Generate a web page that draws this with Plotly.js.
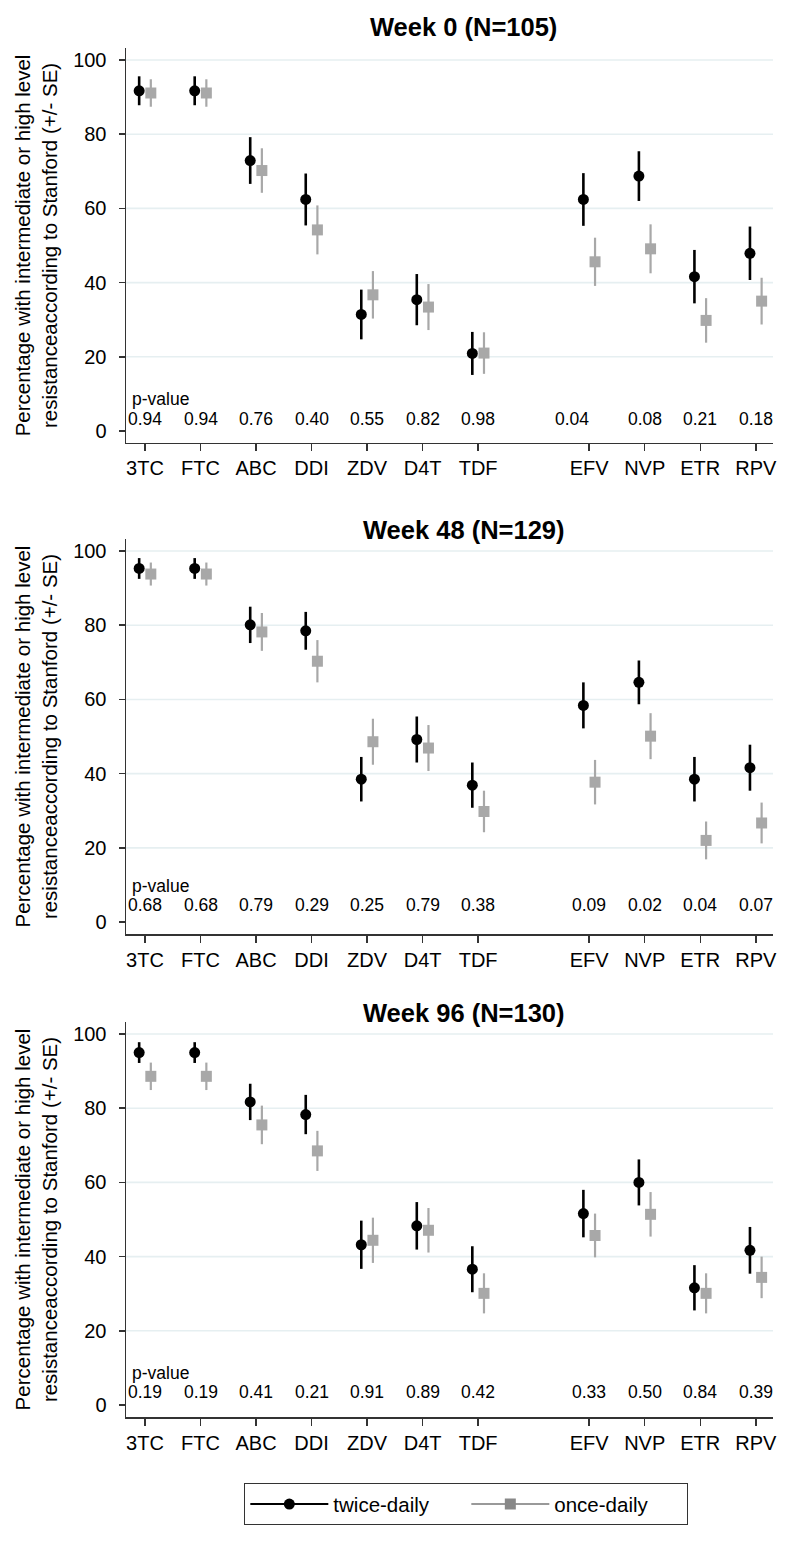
<!DOCTYPE html>
<html>
<head>
<meta charset="utf-8">
<script src="https://cdn.plot.ly/plotly-3.0.1.min.js"></script>
<style>html,body{margin:0;padding:0;background:#fff;}#chart{width:800px;height:1549px;}</style>
</head>
<body>
<div id="chart"></div>
<script>
// ---- data ----
var drugs = ['3TC','FTC','ABC','DDI','ZDV','D4T','TDF','EFV','NVP','ETR','RPV'];
var nrtiCount = 7; // first 7 are NRTIs, then a gap, then NNRTIs
var panelTitles = ['Week 0 (N=105)', 'Week 48 (N=129)', 'Week 96 (N=130)'];
var seriesNames = ['twice-daily', 'once-daily'];

var w0Twice   = [91.7, 91.7, 72.9, 62.4, 31.4, 35.4, 20.9, 62.4, 68.7, 41.6, 47.9];
var w0TwiceSE = [3.9, 3.9, 6.3, 7.0, 6.7, 6.9, 5.8, 7.1, 6.7, 7.2, 7.2];
var w0Once    = [91.1, 91.1, 70.2, 54.2, 36.7, 33.4, 21.0, 45.6, 49.1, 29.8, 35.0];
var w0OnceSE  = [3.7, 3.7, 6.0, 6.6, 6.4, 6.2, 5.6, 6.5, 6.6, 6.0, 6.3];
var w0P       = ['0.94','0.94','0.76','0.40','0.55','0.82','0.98','0.04','0.08','0.21','0.18'];

var w48Twice   = [95.3, 95.3, 80.1, 78.5, 38.5, 49.2, 36.9, 58.4, 64.6, 38.5, 41.6];
var w48TwiceSE = [2.8, 2.8, 4.9, 5.1, 6.0, 6.2, 6.1, 6.2, 5.9, 6.0, 6.2];
var w48Once    = [93.8, 93.8, 78.2, 70.3, 48.6, 46.9, 29.8, 37.7, 50.1, 22.0, 26.7];
var w48OnceSE  = [3.1, 3.1, 5.1, 5.7, 6.2, 6.2, 5.6, 6.0, 6.2, 5.1, 5.5];
var w48P       = ['0.68','0.68','0.79','0.29','0.25','0.79','0.38','0.09','0.02','0.04','0.07'];

var w96Twice   = [95.0, 95.0, 81.7, 78.3, 43.2, 48.3, 36.6, 51.6, 60.0, 31.6, 41.7];
var w96TwiceSE = [2.8, 2.8, 4.9, 5.3, 6.5, 6.4, 6.2, 6.4, 6.2, 6.1, 6.3];
var w96Once    = [88.6, 88.6, 75.5, 68.5, 44.4, 47.1, 30.1, 45.7, 51.4, 30.1, 34.4];
var w96OnceSE  = [3.7, 3.7, 5.2, 5.4, 6.1, 6.0, 5.4, 5.9, 6.0, 5.4, 5.6];
var w96P       = ['0.19','0.19','0.41','0.21','0.91','0.89','0.42','0.33','0.50','0.84','0.39'];

var yTicks = [0, 20, 40, 60, 80, 100];
var gridVals = [20, 40, 60, 80, 100];

// ---- build ----
var panels = [
  {title: panelTitles[0], twice: w0Twice, twiceSE: w0TwiceSE, once: w0Once, onceSE: w0OnceSE, p: w0P},
  {title: panelTitles[1], twice: w48Twice, twiceSE: w48TwiceSE, once: w48Once, onceSE: w48OnceSE, p: w48P},
  {title: panelTitles[2], twice: w96Twice, twiceSE: w96TwiceSE, once: w96Once, onceSE: w96OnceSE, p: w96P}
];

var FONT = 'Liberation Sans, Arial, Helvetica, sans-serif';
var BLACK = '#000000';
var GREY = '#a8a8a8';
var AXIS = '#333333';
var dodge = 0.105;

var pos = drugs.map(function(d, i){ return i < nrtiCount ? i + 1 : i + 2; });

var domains = [[0.7115, 1.0], [0.3528, 0.6413], [0.0, 0.2885]];
var titleY = [1.0153, 0.6479, 0.2951];
var pLabelY = [8.6, 9.8, 8.6];
var pValY = [3.3, 4.6, 3.5];

var data = [];
var layout = {
  width: 800, height: 1549,
  margin: {l: 126, r: 27, t: 48, b: 132},
  paper_bgcolor: '#ffffff', plot_bgcolor: '#ffffff',
  font: {family: FONT, color: '#000', size: 20},
  showlegend: true,
  legend: {
    orientation: 'h', x: 0.526, xanchor: 'center', y: -0.0484, yanchor: 'top',
    bordercolor: AXIS, borderwidth: 1, font: {family: FONT, size: 20.5, color: '#000'},
    itemwidth: 78, entrywidth: 128, entrywidthmode: 'pixels', traceorder: 'normal'
  },
  annotations: [], shapes: []
};

panels.forEach(function(pn, k){
  var xa = k === 0 ? 'x' : 'x' + (k + 1);
  var ya = k === 0 ? 'y' : 'y' + (k + 1);
  data.push({
    type: 'scatter', mode: 'markers', xaxis: xa, yaxis: ya, showlegend: false,
    name: seriesNames[0],
    x: pos.map(function(p){ return p - dodge; }), y: pn.twice,
    error_y: {type: 'data', array: pn.twiceSE, visible: true, width: 0, thickness: 2.6, color: BLACK},
    marker: {symbol: 'circle', size: 11, color: BLACK}
  });
  data.push({
    type: 'scatter', mode: 'markers', xaxis: xa, yaxis: ya, showlegend: false,
    name: seriesNames[1],
    x: pos.map(function(p){ return p + dodge; }), y: pn.once,
    error_y: {type: 'data', array: pn.onceSE, visible: true, width: 0, thickness: 2.2, color: GREY},
    marker: {symbol: 'square', size: 11, color: GREY}
  });

  var xKey = k === 0 ? 'xaxis' : 'xaxis' + (k + 1);
  var yKey = k === 0 ? 'yaxis' : 'yaxis' + (k + 1);
  layout[xKey] = {
    anchor: ya, domain: [0, 1], range: [0.658, 12.31],
    tickmode: 'array', tickvals: pos, ticktext: drugs,
    ticks: 'outside', ticklen: 7, tickwidth: 1.5, tickcolor: AXIS,
    showline: true, linecolor: AXIS, linewidth: 1.5,
    showgrid: false, zeroline: false,
    tickfont: {family: FONT, size: 20, color: '#000'}
  };
  layout[yKey] = {
    anchor: xa, domain: domains[k], range: [-3.23, 103.23],
    tickmode: 'array', tickvals: yTicks,
    ticks: 'outside', ticklen: 6, tickwidth: 1.5, tickcolor: AXIS,
    showline: true, linecolor: AXIS, linewidth: 1.5,
    showgrid: false, zeroline: false,
    tickfont: {family: FONT, size: 20, color: '#000'},
    ticklabelstandoff: 8,
    title: {text: 'Percentage with intermediate or high level<br>resistanceaccording to Stanford (+/- SE)',
            font: {family: FONT, size: 20.5, color: '#000'}, standoff: 10}
  };

  gridVals.forEach(function(g){
    layout.shapes.push({type: 'line', xref: xa + ' domain', yref: ya, x0: 0, x1: 1, y0: g, y1: g,
      layer: 'below', line: {color: '#e6eff1', width: 1.6}});
  });

  layout.annotations.push({
    xref: 'paper', yref: 'paper', x: 0.5224, y: titleY[k], xanchor: 'center', yanchor: 'middle',
    text: '<b>' + pn.title + '</b>', showarrow: false,
    font: {family: FONT, size: 25.5, color: '#000'}
  });
  layout.annotations.push({
    xref: xa + ' domain', yref: ya, x: 0.006, y: pLabelY[k], xanchor: 'left', yanchor: 'middle',
    text: 'p-value', showarrow: false, font: {family: FONT, size: 17.5, color: '#000'}
  });
  pn.p.forEach(function(pv, i){
    layout.annotations.push({
      xref: xa, yref: ya, x: pos[i], y: pValY[k], xanchor: 'center', yanchor: 'middle',
      xshift: (k === 0 && i === nrtiCount) ? -17 : 0,
      text: pv, showarrow: false, font: {family: FONT, size: 17.5, color: '#000'}
    });
  });
});

// legend-only entries
data.push({type: 'scatter', mode: 'lines+markers', name: seriesNames[0], x: [null], y: [null],
  xaxis: 'x3', yaxis: 'y3', showlegend: true,
  line: {color: BLACK, width: 2}, marker: {symbol: 'circle', size: 11, color: BLACK}});
data.push({type: 'scatter', mode: 'lines+markers', name: seriesNames[1], x: [null], y: [null],
  xaxis: 'x3', yaxis: 'y3', showlegend: true,
  line: {color: '#999999', width: 2}, marker: {symbol: 'square', size: 11, color: '#888888'}});

Plotly.newPlot('chart', data, layout, {staticPlot: true, displayModeBar: false});
</script>
</body>
</html>
